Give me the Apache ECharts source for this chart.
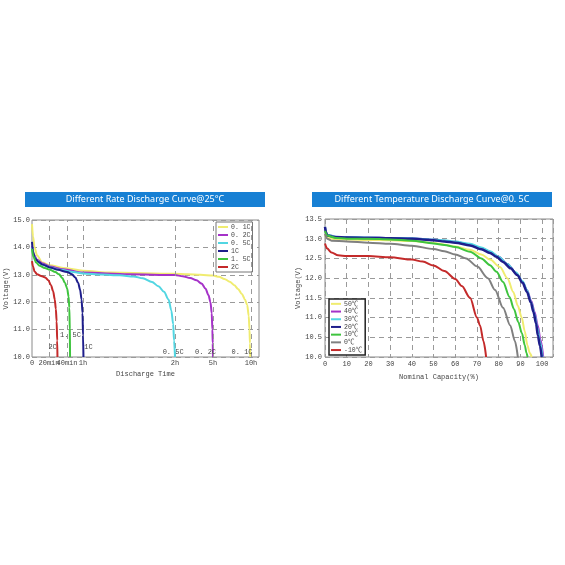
<!DOCTYPE html>
<html>
<head>
<meta charset="utf-8">
<script src="https://cdn.jsdelivr.net/npm/echarts@6/dist/echarts.min.js"></script>
<style>
html,body{margin:0;padding:0;background:#fff;}
#c{width:565px;height:565px;}
</style>
</head>
<body>
<div id="c"></div>
<script>
// ---------- Left chart: Different Rate Discharge Curve@25°C ----------
// time in hours, voltage in V
const rateNames = ['0. 1C', '0. 2C', '0. 5C', '1C', '1. 5C', '2C'];
const rateColors = ['#f0ec70', '#a532c8', '#52d6e2', '#1e1e8c', '#3ec43e', '#c42a2a'];
const rate01C = [[0,14.85],[0.02,14.4],[0.05,14.0],[0.1,13.7],[0.2,13.45],[0.35,13.35],[0.6,13.25],[1.0,13.15],[1.3,13.08],[2,13.04],[3,13.02],[4,13.0],[5,12.97],[5.8,12.93],[6.5,12.85],[7.2,12.75],[7.8,12.62],[8.3,12.48],[8.8,12.3],[9.2,12.1],[9.5,11.9],[9.7,11.5],[9.8,11.0],[9.86,10.5],[9.9,10.0]];
const rate02C = [[0,14.05],[0.03,13.75],[0.1,13.55],[0.2,13.42],[0.35,13.3],[0.6,13.2],[1.0,13.08],[1.5,13.02],[2.0,12.99],[2.6,12.95],[3.2,12.88],[3.7,12.8],[4.1,12.68],[4.4,12.5],[4.65,12.25],[4.8,12.0],[4.9,11.6],[4.95,11.0],[4.98,10.5],[5.0,10.0]];
const rate05C = [[0,14.0],[0.03,13.7],[0.1,13.5],[0.2,13.38],[0.35,13.27],[0.55,13.18],[0.8,13.1],[1.0,13.05],[1.2,13.01],[1.4,12.98],[1.55,12.94],[1.65,12.87],[1.75,12.74],[1.82,12.58],[1.88,12.38],[1.93,12.1],[1.96,11.7],[1.98,11.2],[1.99,10.6],[2.0,10.0]];
const rate1C = [[0,14.2],[0.02,13.85],[0.06,13.6],[0.12,13.48],[0.2,13.38],[0.35,13.27],[0.5,13.18],[0.67,13.1],[0.77,13.02],[0.84,12.9],[0.9,12.7],[0.94,12.45],[0.97,12.1],[0.99,11.6],[1.0,10.8],[1.005,10.0]];
const rate15C = [[0,13.95],[0.03,13.65],[0.08,13.45],[0.15,13.33],[0.25,13.25],[0.35,13.18],[0.45,13.1],[0.52,13.02],[0.58,12.88],[0.63,12.7],[0.67,12.5],[0.7,12.2],[0.715,11.8],[0.725,11.0],[0.73,10.0]];
const rate2C = [[0,13.5],[0.02,13.3],[0.05,13.12],[0.1,13.02],[0.18,12.96],[0.26,12.9],[0.32,12.8],[0.37,12.62],[0.41,12.4],[0.44,12.1],[0.46,11.75],[0.475,11.3],[0.485,10.6],[0.49,10.0]];
const rateSeries = [rate01C, rate02C, rate05C, rate1C, rate15C, rate2C];
// curve tags written inside the plot: [hours, volts]
const rateTags = [[8.82,10.18],[4.41,10.18],[1.98,10.18],[1.06,10.37],[0.74,10.8],[0.40,10.37]];
const rateTagText = ['0. 1C','0. 2C','0. 5C','1C','1. 5C','2C'];
// the time axis of the original is piecewise: tick hours and their axis positions
const timeTickHours = [0, 1/3, 2/3, 1, 2, 5, 10];
const timeTickLabels = ['0', '20min', '40min', '1h', '2h', '5h', '10h'];
const timeTickPos = [0, 17, 35, 51, 143, 181, 219];
const timeAxisMax = 227;

// ---------- Right chart: Different Temperature Discharge Curve@0.5C ----------
// capacity in %, voltage in V
const tempNames = ['50℃', '40℃', '30℃', '20℃', '10℃', '0℃', '-10℃'];
const tempColors = ['#f0ec70', '#a532c8', '#52d6e2', '#1e1e8c', '#3ec43e', '#808080', '#c42a2a'];
const t50 = [[0,13.1],[1,13.02],[5,12.99],[10,12.98],[20,12.97],[30,12.96],[40,12.94],[50,12.89],[55,12.85],[60,12.8],[66.8,12.72],[72,12.6],[76,12.47],[80.6,12.28],[84,12.0],[86.7,11.65],[88.8,11.3],[90.6,11.0],[92,10.65],[93.2,10.3],[94.3,10.1],[95.2,10.0]];
const t40 = [[0,13.28],[1,13.1],[5,13.05],[10,13.04],[20,13.03],[30,13.02],[40,13.01],[50,12.98],[55,12.95],[60,12.92],[66.8,12.85],[72,12.76],[76,12.67],[80,12.54],[84,12.36],[88.5,12.1],[91,11.9],[93,11.7],[95,11.42],[96.5,11.15],[98,10.8],[99.2,10.45],[100.5,10.0]];
const t30 = [[0,13.3],[1,13.1],[5,13.05],[10,13.04],[20,13.03],[30,13.02],[40,13.01],[50,12.98],[55,12.96],[60,12.93],[66.8,12.87],[72,12.78],[76,12.68],[80,12.54],[84,12.36],[88,12.14],[91,11.92],[93,11.7],[95,11.38],[96.5,11.1],[97.8,10.75],[99,10.4],[100.2,10.0]];
const t20 = [[0,13.3],[0.5,13.15],[1,13.08],[5,13.04],[10,13.03],[20,13.02],[30,13.01],[40,13.0],[50,12.96],[55,12.93],[60,12.9],[66.8,12.83],[72,12.73],[76,12.64],[79,12.54],[82,12.41],[85.5,12.25],[88.5,12.08],[91,11.88],[93,11.65],[94.8,11.38],[96,11.14],[97.2,10.85],[98,10.55],[99,10.28],[99.8,10.0]];
const t10 = [[0,13.2],[1,13.08],[5,13.02],[10,13.0],[20,13.0],[30,12.98],[40,12.95],[50,12.88],[55,12.84],[60,12.79],[66.8,12.67],[72,12.5],[76,12.33],[79,12.16],[82,11.9],[85,11.52],[87,11.22],[89,10.89],[90.7,10.6],[92,10.3],[92.8,10.1],[93.3,10.0]];
const t0 = [[0,13.12],[1,13.0],[3,12.95],[10,12.93],[20,12.9],[30,12.87],[40,12.82],[50,12.74],[55,12.68],[60,12.6],[65,12.5],[70,12.3],[75,12.0],[78.3,11.7],[82,11.25],[85.3,10.8],[87.5,10.4],[88.8,10.0]];
const tm10 = [[0,12.88],[1,12.75],[3,12.65],[6,12.58],[10,12.56],[20,12.56],[30,12.53],[40,12.47],[45,12.42],[50,12.32],[55,12.18],[60,11.98],[63,11.8],[66.8,11.5],[70,11.0],[71.4,10.8],[73,10.4],[74.2,10.0]];
const tempSeries = [t50, t40, t30, t20, t10, t0, tm10];

// ---------- helpers ----------
function timePos(h) {
  for (let i = 1; i < timeTickHours.length; i++) {
    if (h <= timeTickHours[i]) {
      const h0 = timeTickHours[i-1], h1 = timeTickHours[i];
      const p0 = timeTickPos[i-1], p1 = timeTickPos[i];
      return p0 + (p1 - p0) * (h - h0) / (h1 - h0);
    }
  }
  const n = timeTickHours.length;
  return timeTickPos[n-1] + (timeTickPos[n-1] - timeTickPos[n-2]) * (h - timeTickHours[n-1]) / (timeTickHours[n-1] - timeTickHours[n-2]);
}
function timeLabel(v) {
  let best = 0;
  for (let i = 1; i < timeTickPos.length; i++) if (Math.abs(timeTickPos[i]-v) < Math.abs(timeTickPos[best]-v)) best = i;
  return timeTickLabels[best];
}

const smallFont = "'Liberation Mono', 'Noto Sans CJK SC', monospace";
const txtColor = '#444';
const gridDash = { color: '#9a9a9a', width: 1, type: [5, 4] };

const series = [];
rateSeries.forEach((d, i) => {
  const s = {
    name: rateNames[i], type: 'line', xAxisIndex: 0, yAxisIndex: 0,
    data: d.map(p => [timePos(p[0]), p[1]]),
    showSymbol: false, smooth: 0.3, smoothMonotone: 'x',
    lineStyle: { width: 2, color: rateColors[i] }, itemStyle: { color: rateColors[i] },
    z: 3 + i,
    markPoint: {
      symbol: 'circle', symbolSize: 0, silent: true,
      label: { show: true, formatter: rateTagText[i], color: txtColor, fontFamily: smallFont, fontSize: 7, position: 'inside' },
      data: [{ coord: [timePos(rateTags[i][0]), rateTags[i][1]] }]
    }
  };
  if (i === 0) {
    s.markLine = {
      silent: true, symbol: 'none', label: { show: false },
      lineStyle: gridDash, animation: false,
      data: timeTickHours.slice(1).map(h => ({ xAxis: timePos(h) }))
    };
  }
  series.push(s);
});
tempSeries.forEach((d, i) => {
  series.push({
    name: tempNames[i], type: 'line', xAxisIndex: 1, yAxisIndex: 1,
    data: d, showSymbol: false, smooth: 0.3, smoothMonotone: 'x',
    lineStyle: { width: i === 3 ? 2.5 : 2, color: tempColors[i] }, itemStyle: { color: tempColors[i] },
    z: 3 + i
  });
});

function banner(x, y, w, h, text) {
  return {
    type: 'group', children: [
      { type: 'rect', shape: { x: x, y: y, width: w, height: h }, style: { fill: '#1780d4' } },
      { type: 'text', x: x + w / 2, y: y + h / 2, style: { text: text, fill: '#fff', font: "9px 'Noto Sans', sans-serif", textAlign: 'center', textVerticalAlign: 'middle' } }
    ]
  };
}

const chart = echarts.init(document.getElementById('c'), null, { renderer: 'canvas' });
chart.setOption({
  animation: false,
  backgroundColor: '#fff',
  graphic: [
    banner(25, 192, 240, 15, 'Different Rate Discharge Curve@25°C'),
    banner(312, 192, 240, 15, 'Different Temperature Discharge Curve@0. 5C')
  ],
  grid: [
    { left: 32, top: 220, width: 227, height: 137, show: true, borderColor: '#8a8a8a', borderWidth: 1, backgroundColor: 'transparent' },
    { left: 325, top: 219, width: 228, height: 138, show: true, borderColor: '#8a8a8a', borderWidth: 1, backgroundColor: 'transparent' }
  ],
  legend: [
    {
      data: rateNames, orient: 'vertical', left: 216, top: 222, itemGap: 0,
      icon: 'rect', itemWidth: 10, itemHeight: 2,
      padding: [1, 2, 1, 2], borderColor: '#777', borderWidth: 1, backgroundColor: '#fff',
      textStyle: { fontFamily: smallFont, fontSize: 6.5, color: txtColor, lineHeight: 8, padding: [0, 0, 0, -2] }
    },
    {
      data: tempNames, orient: 'vertical', left: 329, top: 299, itemGap: 0,
      icon: 'rect', itemWidth: 10, itemHeight: 2,
      padding: [1, 3, 1, 2], borderColor: '#222', borderWidth: 1.5, backgroundColor: '#fff',
      textStyle: { fontFamily: smallFont, fontSize: 6.5, color: txtColor, lineHeight: 7.7, padding: [0, 0, 0, -2] }
    }
  ],
  xAxis: [
    {
      type: 'value', gridIndex: 0, min: 0, max: timeAxisMax,
      name: 'Discharge Time', nameLocation: 'middle', nameGap: 14,
      nameTextStyle: { fontFamily: smallFont, fontSize: 7, color: txtColor },
      axisLine: { show: false }, axisTick: { show: false }, splitLine: { show: false },
      axisLabel: { customValues: timeTickPos, formatter: timeLabel, fontFamily: smallFont, fontSize: 7, color: txtColor, margin: 3 }
    },
    {
      type: 'value', gridIndex: 1, min: 0, max: 105, interval: 10,
      name: 'Nominal Capacity(%)', nameLocation: 'middle', nameGap: 17,
      nameTextStyle: { fontFamily: smallFont, fontSize: 7, color: txtColor },
      axisLine: { show: false }, axisTick: { show: false },
      splitLine: { show: true, lineStyle: gridDash },
      axisLabel: { showMaxLabel: false, fontFamily: smallFont, fontSize: 7, color: txtColor, margin: 4 }
    }
  ],
  yAxis: [
    {
      type: 'value', gridIndex: 0, min: 10, max: 15, interval: 1,
      name: 'Voltage(V)', nameLocation: 'middle', nameGap: 21,
      nameTextStyle: { fontFamily: smallFont, fontSize: 7, color: txtColor },
      axisLine: { show: false }, axisTick: { show: false },
      splitLine: { show: true, lineStyle: gridDash },
      axisLabel: { formatter: v => v.toFixed(1), fontFamily: smallFont, fontSize: 7, color: txtColor, margin: 2 }
    },
    {
      type: 'value', gridIndex: 1, min: 10, max: 13.5, interval: 0.5,
      name: 'Voltage(V)', nameLocation: 'middle', nameGap: 20,
      nameTextStyle: { fontFamily: smallFont, fontSize: 7, color: txtColor },
      axisLine: { show: false }, axisTick: { show: false },
      splitLine: { show: true, lineStyle: gridDash },
      axisLabel: { formatter: v => v.toFixed(1), fontFamily: smallFont, fontSize: 7, color: txtColor, margin: 3 }
    }
  ],
  series: series
});
</script>
</body>
</html>
